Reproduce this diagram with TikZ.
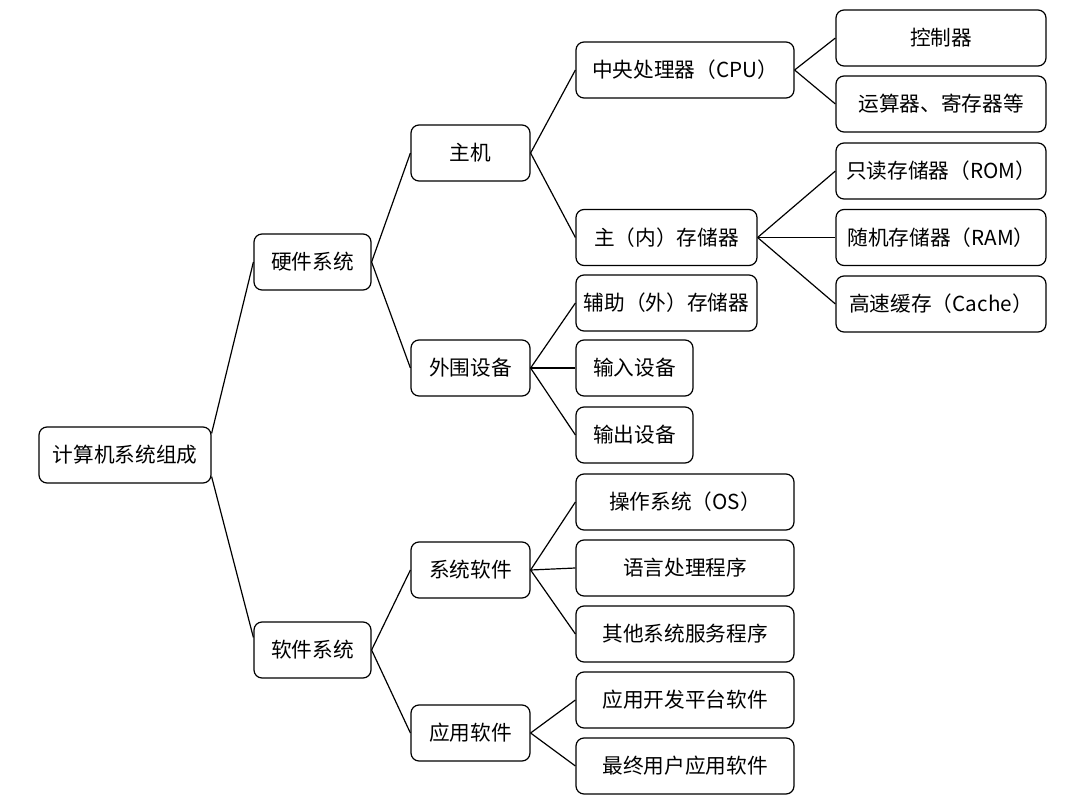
\documentclass[tikz,border=0pt]{standalone}
\usepackage{fontspec}
\setmainfont{Noto Sans CJK SC}
\begin{document}
\begin{tikzpicture}[x=0.75pt,y=-0.75pt,
  box/.style={draw, rounded corners=6pt, line width=0.9pt, inner sep=0pt,
    minimum height=42pt, align=center, font=\fontsize{15.5pt}{18pt}\selectfont},
  link/.style={line width=0.9pt}]
\useasboundingbox (0,0) rectangle (1072,799);
% level 0
\node[box, minimum width=129pt] (root) at (125,455) {计算机系统组成};
% level 1
\node[box, minimum width=87.75pt] (hw) at (312.5,262) {硬件系统};
\node[box, minimum width=87.75pt] (sw) at (312.5,650) {软件系统};
% level 2
\node[box, minimum width=89.25pt] (host) at (470.5,153) {主机};
\node[box, minimum width=89.25pt] (periph) at (470.5,368) {外围设备};
\node[box, minimum width=89.25pt] (syssw) at (470.5,570) {系统软件};
\node[box, minimum width=89.25pt] (appsw) at (470.5,733) {应用软件};
% level 3
\node[box, minimum width=163.5pt] (cpu) at (685,70) {中央处理器（CPU）};
\node[box, minimum width=135.75pt] (mem) at (666.5,237.5) {主（内）存储器};
\node[box, minimum width=135.75pt] (aux) at (666.5,303) {辅助（外）存储器};
\node[box, minimum width=87.75pt] (in) at (634.5,368) {输入设备};
\node[box, minimum width=87.75pt] (out) at (634.5,435) {输出设备};
\node[box, minimum width=163.5pt] (os) at (685,502) {操作系统（OS）};
\node[box, minimum width=163.5pt] (lang) at (685,568) {语言处理程序};
\node[box, minimum width=163.5pt] (other) at (685,634) {其他系统服务程序};
\node[box, minimum width=163.5pt] (dev) at (685,700) {应用开发平台软件};
\node[box, minimum width=163.5pt] (user) at (685,766) {最终用户应用软件};
% level 4
\node[box, minimum width=157.5pt] (ctrl) at (941,38) {控制器};
\node[box, minimum width=157.5pt] (alu) at (941,104) {运算器、寄存器等};
\node[box, minimum width=157.5pt] (rom) at (941,171) {只读存储器（ROM）};
\node[box, minimum width=157.5pt] (ram) at (941,237.5) {随机存储器（RAM）};
\node[box, minimum width=157.5pt] (cache) at (941,304) {高速缓存（Cache）};
% connectors
\draw[link] (root.14) -- (hw.west);
\draw[link] (root.-14) -- (sw.168);
\draw[link] (hw.east) -- (host.west);
\draw[link] (hw.east) -- (periph.west);
\draw[link] (sw.east) -- (syssw.west);
\draw[link] (sw.east) -- (appsw.west);
\draw[link] (host.east) -- (cpu.west);
\draw[link] (host.east) -- (mem.west);
\draw[link] (periph.east) -- (aux.west);
\draw[link] (periph.east) -- (in.west);
\draw[link] (periph.east) -- (out.west);
\draw[link] (syssw.east) -- (os.west);
\draw[link] (syssw.east) -- (lang.west);
\draw[link] (syssw.east) -- (other.west);
\draw[link] (appsw.east) -- (dev.west);
\draw[link] (appsw.east) -- (user.west);
\draw[link] (cpu.east) -- (ctrl.west);
\draw[link] (cpu.east) -- (alu.west);
\draw[link] (mem.east) -- (rom.west);
\draw[link] (mem.east) -- (ram.west);
\draw[link] (mem.east) -- (cache.west);
\end{tikzpicture}
\end{document}
